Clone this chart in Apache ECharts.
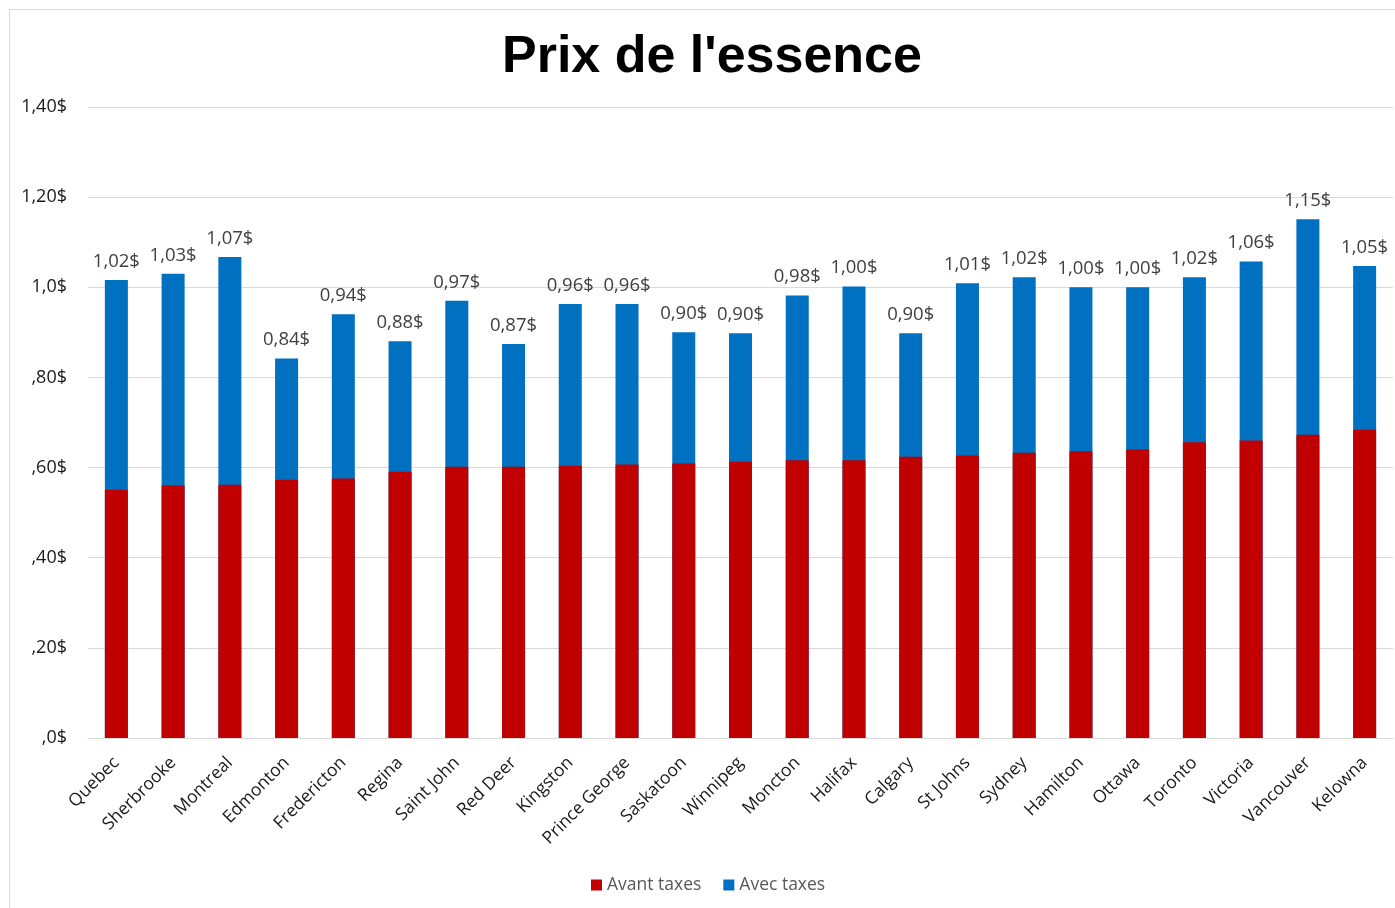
<!DOCTYPE html>
<html>
<head>
<meta charset="utf-8">
<script src="https://cdn.jsdelivr.net/npm/echarts@6/dist/echarts.min.js"></script>
<style>
html,body{margin:0;padding:0;background:#fff;}
#frame{position:absolute;left:9px;top:9px;width:1400px;height:910px;border-left:1px solid #d9d9d9;border-top:1px solid #d9d9d9;}
#main{position:absolute;left:0;top:0;width:1395px;height:908px;}
</style>
</head>
<body>
<div id="frame"></div>
<div id="main"></div>
<script>
// villes
var villes = ['Quebec','Sherbrooke','Montreal','Edmonton','Fredericton','Regina','Saint John','Red Deer','Kingston','Prince George','Saskatoon','Winnipeg','Moncton','Halifax','Calgary','St Johns','Sydney','Hamilton','Ottawa','Toronto','Victoria','Vancouver','Kelowna'];
// prix avant taxes
var avantTaxes = [0.551,0.560,0.562,0.573,0.576,0.591,0.602,0.602,0.604,0.607,0.609,0.613,0.616,0.616,0.624,0.627,0.633,0.636,0.640,0.656,0.660,0.673,0.684];
// prix avec taxes
var avecTaxes = [1.016,1.03,1.067,0.842,0.94,0.88,0.97,0.874,0.963,0.963,0.9,0.898,0.982,1.002,0.898,1.009,1.022,1.0,1.0,1.022,1.057,1.151,1.047];
// etiquettes axe y
var ticksY = [',0$',',20$',',40$',',60$',',80$','1,0$','1,20$','1,40$'];

var myChart = echarts.init(document.getElementById('main'));
var txt = '"Open Sans","Noto Sans",sans-serif';
var option = {
    animation:false,
    title:{
        text:"Prix de l'essence",
        left:497,
        top:27,
        textStyle:{fontFamily:'"Liberation Sans",Arial,sans-serif',fontSize:52,fontWeight:'bold',color:'#000'}
    },
    legend:{
        data:['Avant taxes','Avec taxes'],
        bottom:9,
        left:586,
        itemWidth:11,
        itemHeight:11,
        itemGap:22,
        icon:'rect',
        textStyle:{fontFamily:txt,fontSize:17.5,color:'#595959'}
    },
    grid:{left:88,right:2,top:107,bottom:170,containLabel:false},
    xAxis:{
        type:'category',
        data:villes,
        axisTick:{show:false},
        axisLine:{lineStyle:{color:'#d9d9d9',width:1}},
        axisLabel:{rotate:45,interval:0,margin:22,fontFamily:txt,fontSize:17.5,color:'#1a1a1a'}
    },
    yAxis:{
        type:'value',
        min:0,
        max:1.4,
        interval:0.2,
        axisLine:{show:false},
        axisTick:{show:false},
        splitLine:{lineStyle:{color:'#d9d9d9',width:1}},
        axisLabel:{
            margin:21,
            fontFamily:txt,fontSize:18,color:'#1a1a1a',
            formatter:function(v){return ticksY[Math.round(v/0.2)];}
        }
    },
    series:[
        {
            name:'Avec taxes',
            type:'bar',
            data:avecTaxes,
            barWidth:23,
            barGap:'-100%',
            itemStyle:{color:'#0070c0'},
            label:{
                show:true,position:'top',distance:9,
                fontFamily:txt,fontSize:18.5,color:'#404040',
                formatter:function(p){return p.value.toFixed(2).replace('.',',')+'$';}
            },
            z:1
        },
        {
            name:'Avant taxes',
            type:'bar',
            data:avantTaxes,
            barWidth:23,
            barGap:'-100%',
            itemStyle:{color:'#c00000'},
            z:2
        }
    ]
};
myChart.setOption(option);
</script>
</body>
</html>
